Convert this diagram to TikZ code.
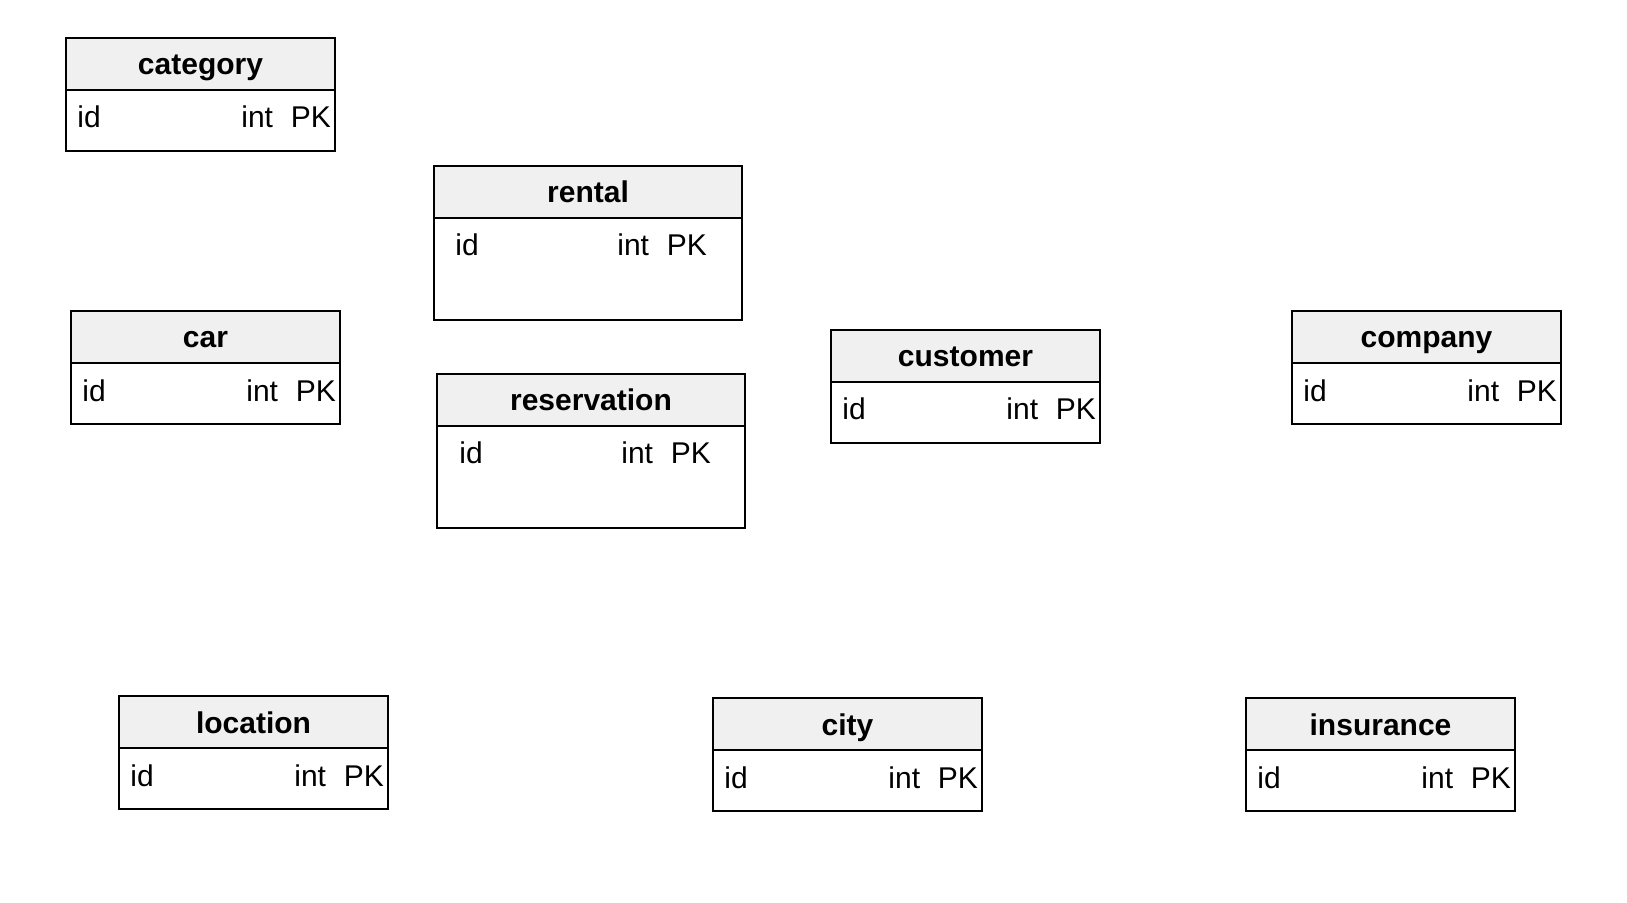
\documentclass[tikz,border=0pt]{standalone}
\usepackage{fontspec}
\setmainfont{Liberation Sans}
\usetikzlibrary{positioning}
\definecolor{headgray}{RGB}{240,240,240}

\begin{document}
\begin{tikzpicture}[x=0.5pt,y=-0.5pt,
font=\fontsize{15}{18}\selectfont,
tblhead/.style={draw, fill=headgray, line width=1pt, anchor=north west,
  minimum height=26pt, inner sep=0pt, outer sep=0pt,
  text height=12pt, text depth=1pt, font=\bfseries\fontsize{15}{18}\selectfont},
tblbody/.style={draw, line width=1pt, anchor=north west, inner sep=0pt, outer sep=0pt},
field/.style={anchor=base west, inner sep=0pt}]
\useasboundingbox (0,0) rectangle (1627,903);
% tables: name / left / top / width (pt) / body height (pt) / id offset, type offset (px)
\foreach \tbl/\px/\py/\w/\bh/\idx/\io in {
  category/66/38/134.5/30.5/11/175,
  rental/434/166/154/51/21/183,
  car/71/311/134.5/30.5/11/175,
  reservation/437/374/154/51/22/184,
  customer/831/330/134.5/30.5/11/175,
  company/1292/311/134.5/30.5/11/175,
  location/119/696/134.5/30.5/11/175,
  city/713/698/134.5/30.5/11/175,
  insurance/1246/698/134.5/30.5/11/175} {
  \node[tblhead, minimum width=\w pt] (\tbl) at (\px,\py) {\tbl};
  \node[tblbody, minimum width=\w pt, minimum height=\bh pt] (\tbl-body) at (\tbl.south west) {};
  \node[field, xshift=\idx*0.5pt, yshift=-19pt] (\tbl-id) at (\tbl-body.north west) {id};
  \node[field, right=\io*0.5pt-\idx*0.5pt of \tbl-id.base west, anchor=base west] (\tbl-type) {int};
  \node[field, right=24.75pt of \tbl-type.base west, anchor=base west] (\tbl-key) {PK};
}
\end{tikzpicture}
\end{document}
